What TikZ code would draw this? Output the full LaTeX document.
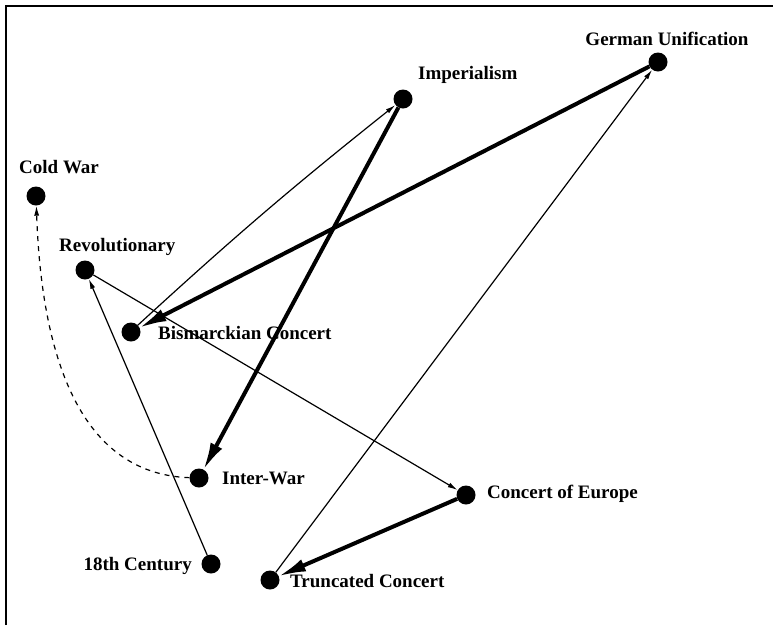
\documentclass[tikz,border=0pt]{standalone}
\usepackage{fontspec}
\setmainfont{Liberation Serif}
\usetikzlibrary{arrows.meta}
\begin{document}
\begin{tikzpicture}[x=1pt,y=-1pt,
  dot/.style={circle,fill=black,inner sep=0pt,minimum size=19pt},
  lbl/.style={font=\fontsize{19}{22}\selectfont\bfseries,inner sep=0pt},
  heavy/.style={line width=4pt,-{Latex[length=28pt,width=13pt]},shorten >=-1pt},
  light/.style={line width=1.2pt,-{Latex[length=10pt,width=5pt]}},
  faint/.style={line width=1.2pt,dashed,dash pattern=on 5pt off 5pt,-{Latex[length=10pt,width=5pt]}}]
\useasboundingbox (0,0) rectangle (773,625);
% frame along the top and left edges
\draw[line width=2.5pt] (6,625) -- (6,6) -- (773,6);

% states
\node[dot] (ger) at (658,62) {};
\node[dot] (imp) at (403,99) {};
\node[dot] (cold) at (36,196) {};
\node[dot] (rev) at (85,270) {};
\node[dot] (bis) at (131,332) {};
\node[dot] (inter) at (199,478) {};
\node[dot] (coe) at (466,495) {};
\node[dot] (c18) at (211,564) {};
\node[dot] (trunc) at (270,580) {};

% names
\node[lbl,anchor=center] (gerl) at (667,39) {German Unification};
\node[lbl,anchor=west] (impl) at (418,75) {Imperialism};
\node[lbl,anchor=west] (coldl) at (19,167) {Cold War};
\node[lbl,anchor=west] (revl) at (59,247) {Revolutionary};
\node[lbl,anchor=west] (bisl) at (158,333) {Bismarckian Concert};
\node[lbl,anchor=west] (interl) at (222,478) {Inter-War};
\node[lbl,anchor=west] (coel) at (487,494) {Concert of Europe};
\node[lbl,anchor=east] (c18l) at (192,566) {18th Century};
\node[lbl,anchor=west] (truncl) at (290,581) {Truncated Concert};

% transitions
\draw[heavy] (ger) -- (bis);
\draw[heavy] (imp) -- (inter);
\draw[heavy] (coe) -- (trunc);
\draw[light] (bis.north east) to[bend left=2] (imp);
\draw[light] (trunc) -- (ger);
\draw[light] (rev) -- (coe);
\draw[light] (c18) -- (rev);
\draw[faint] (inter) to[out=178,in=-88] (cold);
\end{tikzpicture}
\end{document}
